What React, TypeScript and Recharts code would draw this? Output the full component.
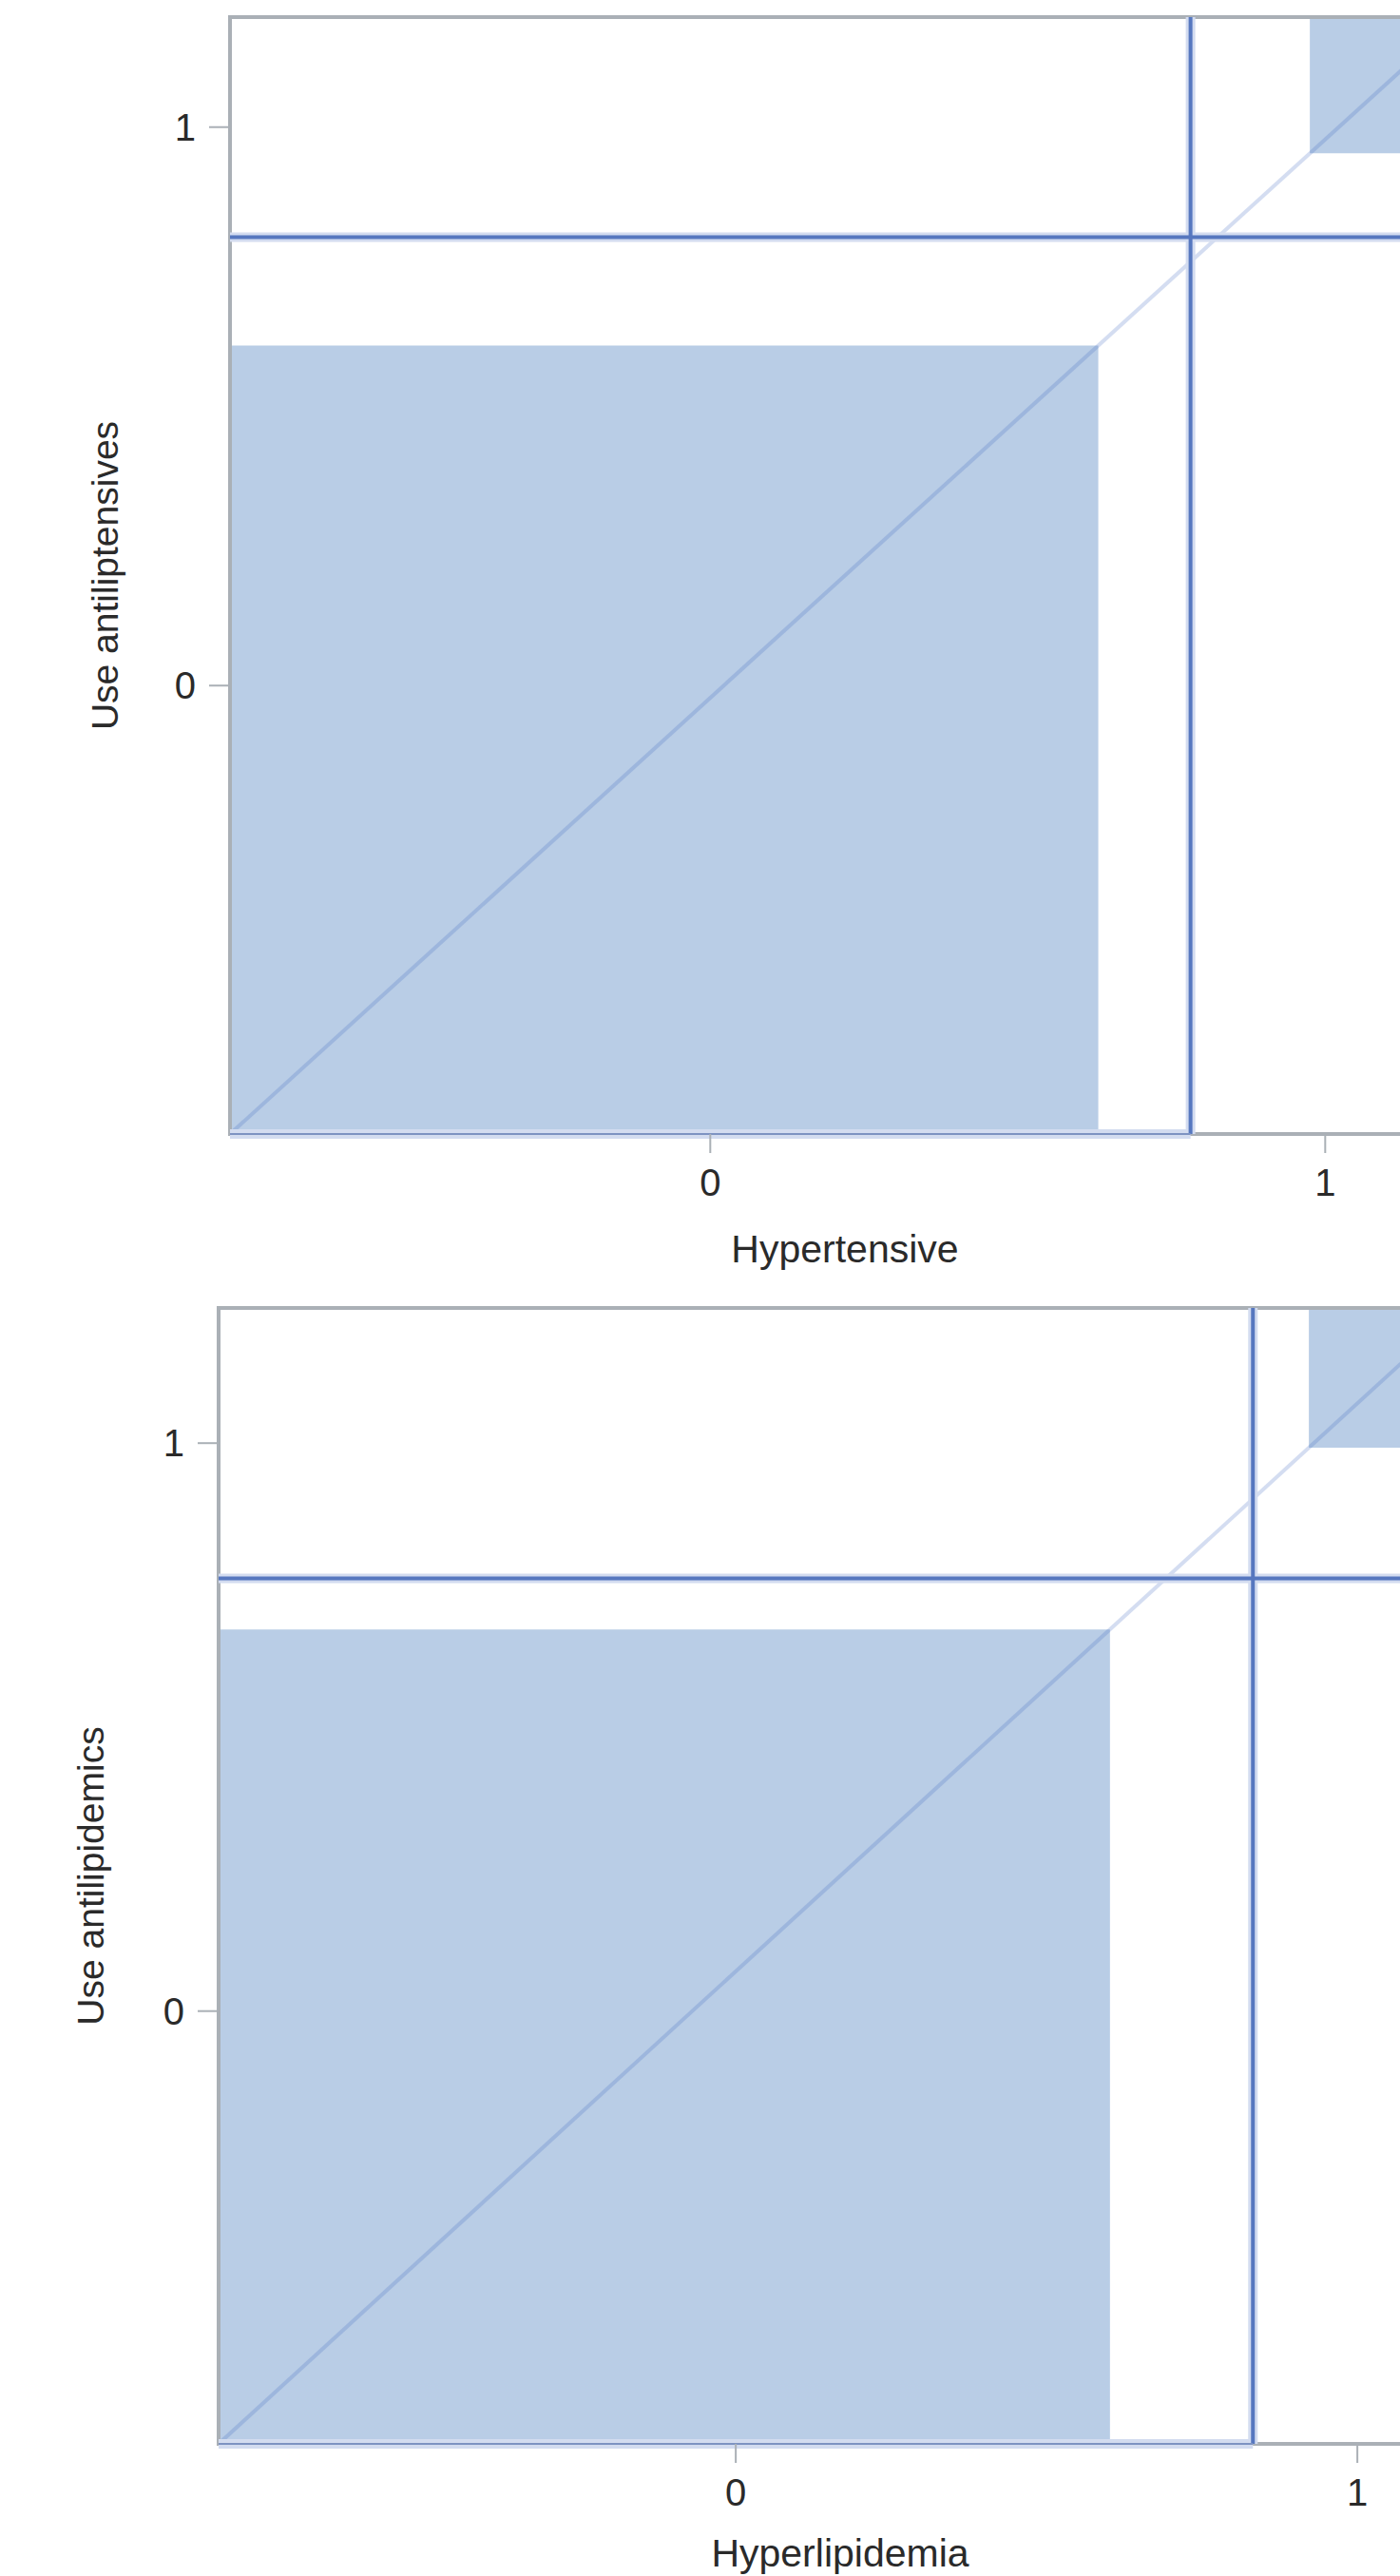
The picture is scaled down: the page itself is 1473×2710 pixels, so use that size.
import React from "react";
import { ComposedChart, Line, XAxis, YAxis, ReferenceArea, ReferenceLine } from "recharts";

// categories on both axes
const categories = ["0", "1"];

// Hypertensive (columns 0/1) by Use antiliptensives (rows 0/1), counts
const htnUse0 = [706, 97];
const htnUse1 = [75, 122];

// Hyperlipidemia (columns 0/1) by Use antilipidemics (rows 0/1)
const lipUse0 = [717, 45];
const lipUse1 = [115, 123];

const FILL = "#b9cde6";
const LINE = "#5677bf";
const HALO = "#d3dcf0";
const FRAME = "#aab0b6";
const TEXT = "#2a2a2a";

type PanelProps = {
  row0: number[];
  row1: number[];
  xLabel: string;
  yLabel: string;
  top: number;
  plotTop: number;
  plotLeft: number;
  plotW: number;
  plotH: number;
  chartH: number;
  xLabelOffset: number;
  yLabelX: number;
};

function AgreementPanel(p: PanelProps) {
  const colTot = [p.row0[0] + p.row1[0], p.row0[1] + p.row1[1]];
  const rowTot = [p.row0[0] + p.row0[1], p.row1[0] + p.row1[1]];
  const n = rowTot[0] + rowTot[1];
  const n00 = p.row0[0];
  const n11 = p.row1[1];
  const xTicks = [colTot[0] / 2, colTot[0] + colTot[1] / 2];
  const yTicks = [rowTot[0] / 2, rowTot[0] + rowTot[1] / 2];
  const diag = [{ x: 0, y: 0 }, { x: n, y: n }];
  const chartW = 1560;
  const xAxisH = p.chartH - p.plotTop - p.plotH;

  return (
    <div style={{ position: "absolute", left: 0, top: p.top }}>
      <ComposedChart
        width={chartW}
        height={p.chartH}
        data={diag}
        margin={{ top: p.plotTop, right: chartW - p.plotLeft - p.plotW, bottom: 0, left: 0 }}
      >
        <XAxis
          type="number"
          dataKey="x"
          domain={[0, n]}
          ticks={xTicks}
          interval={0}
          allowDataOverflow
          tickFormatter={(v: number) => categories[xTicks.indexOf(v)]}
          axisLine={false}
          tickLine={{ stroke: FRAME, strokeWidth: 2 }}
          tickSize={20}
          tickMargin={17}
          height={xAxisH}
          tick={{ fontSize: 40, fill: TEXT }}
          label={{ value: p.xLabel, position: "insideBottom", offset: p.xLabelOffset, fontSize: 41, fill: TEXT }}
        />
        <YAxis
          type="number"
          domain={[0, n]}
          ticks={yTicks}
          interval={0}
          allowDataOverflow
          tickFormatter={(v: number) => categories[yTicks.indexOf(v)]}
          axisLine={false}
          tickLine={{ stroke: FRAME, strokeWidth: 2 }}
          tickSize={22}
          tickMargin={14}
          width={p.plotLeft}
          tick={{ fontSize: 40, fill: TEXT }}
          label={{
            value: p.yLabel,
            angle: -90,
            position: "insideLeft",
            offset: p.yLabelX,
            fontSize: 39,
            fill: TEXT,
            style: { textAnchor: "middle" },
          }}
        />
        <ReferenceArea x1={0} x2={n00} y1={0} y2={n00} fill={FILL} fillOpacity={1} stroke="none" />
        <ReferenceArea x1={n - n11} x2={n} y1={n - n11} y2={n} fill={FILL} fillOpacity={1} stroke="none" />
        <Line
          dataKey="y"
          stroke="#3d63bd"
          strokeOpacity={0.22}
          strokeWidth={4}
          dot={false}
          activeDot={false}
          isAnimationActive={false}
        />
        <ReferenceLine x={colTot[0]} stroke={HALO} strokeWidth={10} />
        <ReferenceLine y={rowTot[0]} stroke={HALO} strokeWidth={10} />
        <ReferenceLine segment={[{ x: 0, y: 0 }, { x: colTot[0], y: 0 }]} stroke={HALO} strokeWidth={10} />
        <ReferenceLine x={colTot[0]} stroke={LINE} strokeWidth={4} />
        <ReferenceLine y={rowTot[0]} stroke={LINE} strokeWidth={4} />
        <ReferenceArea x1={0} x2={n} y1={0} y2={n} fill="none" stroke={FRAME} strokeWidth={4} />
        <ReferenceLine segment={[{ x: 0, y: 0 }, { x: colTot[0], y: 0 }]} stroke="#7d93c2" strokeWidth={2} />
      </ComposedChart>
    </div>
  );
}

export default function App() {
  return (
    <div
      style={{
        position: "fixed",
        left: 0,
        top: 0,
        width: 1473,
        height: 2710,
        overflow: "hidden",
        background: "#fff",
        fontFamily: "'Liberation Sans', Arial, sans-serif",
      }}
    >
      <AgreementPanel
        row0={htnUse0}
        row1={htnUse1}
        xLabel="Hypertensive"
        yLabel="Use antiliptensives"
        top={0}
        plotTop={18}
        plotLeft={242}
        plotW={1294}
        plotH={1175}
        chartH={1360}
        xLabelOffset={32}
        yLabelX={110}
      />
      <AgreementPanel
        row0={lipUse0}
        row1={lipUse1}
        xLabel="Hyperlipidemia"
        yLabel="Use antilipidemics"
        top={1356}
        plotTop={20}
        plotLeft={230}
        plotW={1308}
        plotH={1195}
        chartH={1360}
        xLabelOffset={16}
        yLabelX={95}
      />
    </div>
  );
}
